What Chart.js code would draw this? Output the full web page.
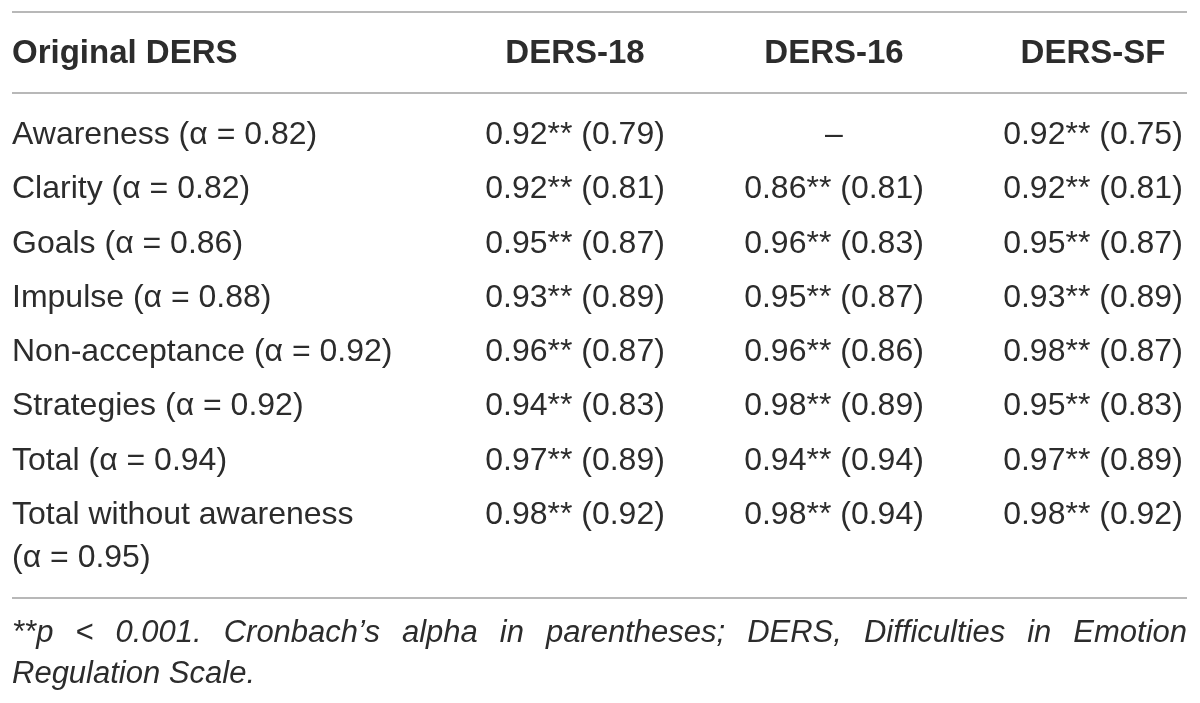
<!DOCTYPE html>
<html>
<head>
<meta charset="utf-8">
<script src="https://cdn.jsdelivr.net/npm/chart.js@4.4.1/dist/chart.umd.min.js"></script>
<style>
  html, body { margin: 0; padding: 0; background: #fff; }
  #wrap { width: 1200px; height: 703px; }
</style>
</head>
<body>
<div id="wrap"><canvas id="tabela"></canvas></div>
<script>
const cabecalhos = ['Original DERS', 'DERS-18', 'DERS-16', 'DERS-SF'];
const escalas = ['Awareness', 'Clarity', 'Goals', 'Impulse', 'Non-acceptance', 'Strategies', 'Total', 'Total without awareness'];
const alphaOriginal = [0.82, 0.82, 0.86, 0.88, 0.92, 0.92, 0.94, 0.95];
const r18 = [0.92, 0.92, 0.95, 0.93, 0.96, 0.94, 0.97, 0.98];
const alpha18 = [0.79, 0.81, 0.87, 0.89, 0.87, 0.83, 0.89, 0.92];
const r16 = [null, 0.86, 0.96, 0.95, 0.96, 0.98, 0.94, 0.98];
const alpha16 = [null, 0.81, 0.83, 0.87, 0.86, 0.89, 0.94, 0.94];
const rSF = [0.92, 0.92, 0.95, 0.93, 0.98, 0.95, 0.97, 0.98];
const alphaSF = [0.75, 0.81, 0.87, 0.89, 0.87, 0.83, 0.89, 0.92];
const nota = ['**p < 0.001. Cronbach’s alpha in parentheses; DERS, Difficulties in Emotion', 'Regulation Scale.'];

const corTexto = '#2c2c2c';
const fonteBase = '"Liberation Sans", Arial, sans-serif';
const xMin = -1.174, xMax = 3.363;
const yTopo = -2.23, yCabecalho = -1.49, yLinhaCab = -0.74, yFim = 8.56;

function celula(r, a) {
  return r == null ? '–' : r.toFixed(2) + '** (' + a.toFixed(2) + ')';
}

const linhas = escalas.map((_, i) => i);
const colunas = [
  { textos: escalas.map((e, i) => e + ' (α = ' + alphaOriginal[i].toFixed(2) + ')'), x: xMin, alinhar: 'left' },
  { textos: r18.map((r, i) => celula(r, alpha18[i])), x: 1, alinhar: 'center' },
  { textos: r16.map((r, i) => celula(r, alpha16[i])), x: 2, alinhar: 'center' },
  { textos: rSF.map((r, i) => celula(r, alphaSF[i])), x: 3, alinhar: 'center' }
];

const datasets = colunas.map(c => ({
  data: linhas.map(i => ({ x: c.x, y: i })),
  textos: c.textos,
  alinhar: c.alinhar,
  fonte: '32px ' + fonteBase,
  pointRadius: 0,
  showLine: false
}));
datasets.push({
  data: colunas.map(c => ({ x: c.x, y: yCabecalho })),
  textos: cabecalhos,
  alinhar: 'cabecalho',
  fonte: 'bold 33px ' + fonteBase,
  pointRadius: 0,
  showLine: false
});

function linhaJustificada(ctx, texto, x0, x1, y) {
  const palavras = texto.split(' ');
  const larguras = palavras.map(p => ctx.measureText(p).width);
  const soma = larguras.reduce((a, b) => a + b, 0);
  const gap = (x1 - x0 - soma) / (palavras.length - 1);
  let x = x0;
  palavras.forEach((p, k) => {
    ctx.fillText(p, x, y);
    x += larguras[k] + gap;
  });
}

const textoCelulas = {
  id: 'textoCelulas',
  afterDatasetsDraw(chart) {
    const ctx = chart.ctx;
    const area = chart.chartArea;
    ctx.save();
    ctx.fillStyle = corTexto;
    ctx.textBaseline = 'middle';
    chart.data.datasets.forEach((ds, i) => {
      const meta = chart.getDatasetMeta(i);
      ctx.font = ds.fonte;
      meta.data.forEach((pt, j) => {
        let alinhar = ds.alinhar;
        if (alinhar === 'cabecalho') alinhar = j === 0 ? 'left' : 'center';
        ctx.textAlign = alinhar;
        const t = ds.textos[j];
        const y = pt.y + 2;
        if (alinhar === 'left' && ctx.measureText(t).width > 420) {
          const corte = t.indexOf(' (');
          ctx.fillText(t.slice(0, corte), pt.x, y);
          ctx.fillText(t.slice(corte + 1), pt.x, y + 43);
        } else {
          ctx.fillText(t, pt.x, y);
        }
      });
    });
    ctx.font = 'italic 31px ' + fonteBase;
    ctx.textAlign = 'left';
    ctx.textBaseline = 'alphabetic';
    linhaJustificada(ctx, nota[0], area.left, area.right, area.bottom + 44);
    ctx.fillText(nota[1], area.left, area.bottom + 85);
    ctx.restore();
  }
};

new Chart(document.getElementById('tabela'), {
  type: 'scatter',
  data: { datasets: datasets },
  options: {
    responsive: true,
    maintainAspectRatio: false,
    animation: false,
    layout: { padding: { left: 12, right: 13, top: 12, bottom: 105 } },
    plugins: { legend: { display: false }, tooltip: { enabled: false } },
    scales: {
      x: { type: 'linear', min: xMin, max: xMax, display: false },
      y: {
        type: 'linear',
        reverse: true,
        min: yTopo,
        max: yFim,
        afterBuildTicks: s => { s.ticks = [{ value: yTopo }, { value: yLinhaCab }, { value: yFim }]; },
        ticks: { display: false },
        grid: { color: '#b8b8b8', lineWidth: 2, drawTicks: false },
        border: { display: false }
      }
    }
  },
  plugins: [textoCelulas]
});
</script>
</body>
</html>
